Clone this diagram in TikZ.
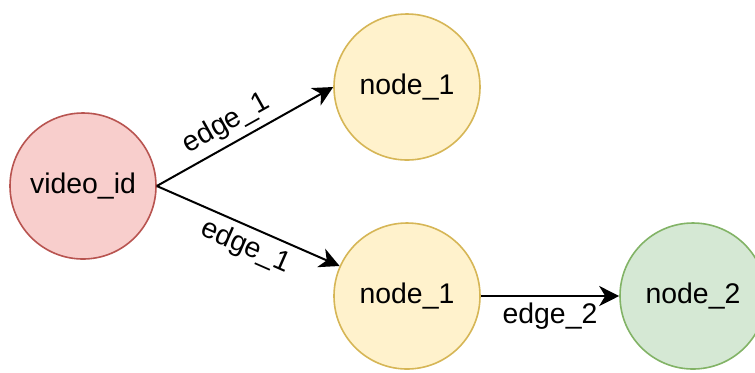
\documentclass[tikz,border=0pt]{standalone}
\usepackage{fontspec}
\setmainfont{Liberation Sans}
\usetikzlibrary{arrows.meta}
\definecolor{redfill}{HTML}{F8CECC}
\definecolor{redline}{HTML}{B85450}
\definecolor{yelfill}{HTML}{FFF2CC}
\definecolor{yelline}{HTML}{D6B656}
\definecolor{grnfill}{HTML}{D5E8D4}
\definecolor{grnline}{HTML}{82B366}
\tikzset{
  vert/.style={circle,minimum size=73pt,inner sep=0pt,line width=0.8pt,font=\fontsize{14.2}{17}\selectfont},
  link/.style={line width=1pt,-{Stealth[length=10pt,width=10pt,inset=3pt]}},
  lbl/.style={font=\fontsize{14.2}{17}\selectfont,inner sep=3pt}
}
\begin{document}
\begin{tikzpicture}[x=0.5pt,y=-0.5pt]
    \useasboundingbox (0,0) rectangle (755,372);
    \node[vert,draw=redline,fill=redfill] (vid) at (83,186) {video\_id};
    \node[vert,draw=yelline,fill=yelfill] (n1a) at (407,87) {node\_1};
    \node[vert,draw=yelline,fill=yelfill] (n1b) at (407,296) {node\_1};
    \node[vert,draw=grnline,fill=grnfill] (n2) at (693,296) {node\_2};
    \draw[link] (vid.east) -- node[lbl,sloped,above,pos=0.45] {edge\_1} (n1a.west);
    \draw[link] (vid.east) -- node[lbl,sloped,below,pos=0.53] {edge\_1} (n1b.156);
    \draw[link] (n1b.east) -- node[lbl,below,pos=0.5] {edge\_2} (n2.west);
\end{tikzpicture}
\end{document}
